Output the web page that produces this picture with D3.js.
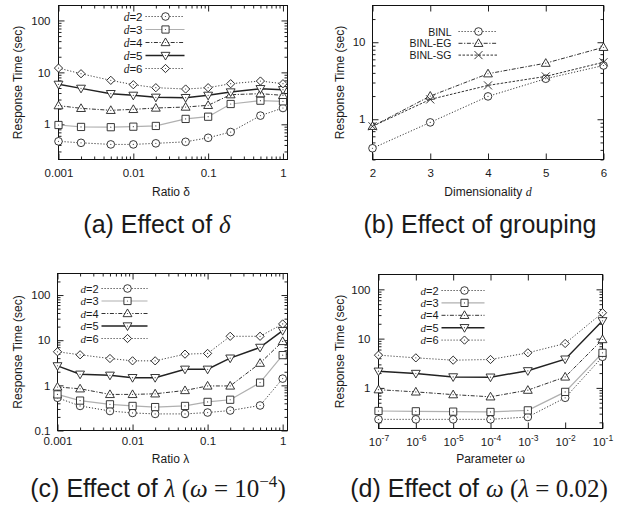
<!DOCTYPE html>
<html><head><meta charset="utf-8">
<script src="https://cdn.jsdelivr.net/npm/d3@7"></script>
<style>body{margin:0;background:#fff}svg{display:block}</style>
</head><body>
<svg id="chart" width="632" height="511"></svg>
<script>
// ---------- data ----------
const aX = [0.001,0.002,0.005,0.01,0.02,0.05,0.1,0.2,0.5,1];
const aD2 = [0.47,0.44,0.41,0.41,0.43,0.46,0.55,0.71,1.47,2.06];
const aD3 = [0.97,0.89,0.88,0.90,0.93,1.27,1.40,2.46,2.85,2.77];
const aD4 = [2.29,2.03,1.86,1.94,2.06,2.15,2.32,3.72,3.89,3.61];
const aD5 = [5.88,4.92,3.89,3.61,3.31,3.26,3.61,4.19,4.85,4.64];
const aD6 = [12.1,9.42,7.02,5.79,5.07,4.78,5.07,6.05,6.81,6.05];

const bX = [2,3,4,5,6];
const bBINL = [0.42,0.91,1.98,3.36,4.99];
const bEG = [0.81,2.0,3.9,5.35,8.6];
const bSG = [0.81,1.81,2.75,3.6,5.5];

const cX = [0.001,0.002,0.005,0.01,0.02,0.05,0.1,0.2,0.5,1];
const cD2 = [0.53,0.35,0.27,0.245,0.233,0.233,0.25,0.277,0.358,1.41];
const cD3 = [0.63,0.46,0.38,0.35,0.33,0.35,0.43,0.48,1.15,4.67];
const cD4 = [0.92,0.84,0.63,0.63,0.65,0.77,0.97,0.97,3.1,9.4];
const cD5 = [2.7,1.76,1.67,1.48,1.48,2.27,2.27,4.0,6.92,16.3];
const cD6 = [5.54,4.75,3.93,3.49,3.49,4.91,5.09,12.2,12.2,22.9];

const dX = [1e-7,1e-6,1e-5,1e-4,1e-3,1e-2,1e-1];
const dD2 = [0.23,0.23,0.23,0.23,0.257,0.63,4.27];
const dD3 = [0.34,0.335,0.33,0.325,0.35,0.83,5.15];
const dD4 = [0.92,0.83,0.73,0.66,0.90,1.67,9.6];
const dD5 = [2.18,1.96,1.67,1.65,2.22,3.83,23];
const dD6 = [4.62,4.07,3.65,3.77,5.15,7.97,33.5];

const dimNames = ["d=2","d=3","d=4","d=5","d=6"];
const grpNames = ["BINL","BINL-EG","BINL-SG"];

const logXTicks = [0.001,0.01,0.1,1];
const logXTickLabels = ["0.001","0.01","0.1","1"];
const bXTicks = [2,3,4,5,6];
const bXTickLabels = ["2","3","4","5","6"];
const dXTicks = [1e-7,1e-6,1e-5,1e-4,1e-3,1e-2,1e-1];
const dXTickExp = ["-7","-6","-5","-4","-3","-2","-1"];
const aYTicks = [1,10,100], aYTickLabels = ["1","10","100"];
const bYTicks = [1,10], bYTickLabels = ["1","10"];
const cYTicks = [0.1,1,10,100], cYTickLabels = ["0.1","1","10","100"];
const dYTicks = [1,10,100], dYTickLabels = ["1","10","100"];

// ---------- styles ----------
const SANS = "'Liberation Sans', Arial, Helvetica, sans-serif";
const SERIF = "'Liberation Serif', 'Times New Roman', serif";
const dimStyles = [
  {stroke:"#3a3a3a", width:1, dash:"1.2,1.8", marker:"circle"},
  {stroke:"#b0b0b0", width:1.2, dash:null, marker:"square"},
  {stroke:"#333", width:1, dash:"4,1.6,1.2,1.6", marker:"triUp"},
  {stroke:"#222", width:1.5, dash:null, marker:"triDown"},
  {stroke:"#444", width:1, dash:"1.2,1.8", marker:"diamond"}
];
const grpStyles = [
  {stroke:"#3a3a3a", width:1, dash:"1.2,1.8", marker:"circle"},
  {stroke:"#333", width:1, dash:"4,1.6,1.2,1.6", marker:"triUp"},
  {stroke:"#333", width:1, dash:"2.5,1.5", marker:"cross"}
];

const svg = d3.select("#chart");
const root = svg.append("g").attr("transform","translate(0.5,0.5)");

function drawMarker(g, type, cx, cy) {
  let p;
  if (type === "circle") p = d3.symbol(d3.symbolCircle, 46)();
  else if (type === "square") p = d3.symbol(d3.symbolSquare, 52)();
  else if (type === "triUp" || type === "triDown") p = d3.symbol(d3.symbolTriangle, 34)();
  else if (type === "diamond") p = d3.symbol(d3.symbolSquare, 34)();
  else p = d3.symbol(d3.symbolTimes, 44)();
  let rot = type === "triDown" ? 180 : (type === "diamond" ? 45 : 0);
  const dyAdj = type === "triUp" ? 0.6 : (type === "triDown" ? -0.6 : 0);
  g.append("path").attr("d", p)
    .attr("transform", `translate(${cx},${cy + dyAdj}) rotate(${rot})`)
    .attr("fill", type === "cross" ? "none" : "#fff")
    .attr("stroke", "#222").attr("stroke-width", 0.9);
  if (type !== "cross") g.append("circle").attr("cx", cx).attr("cy", cy).attr("r", 0.6).attr("fill", "#444");
}

function minorLog(domain) {
  const out = [];
  const lo = Math.floor(Math.log10(domain[0])), hi = Math.ceil(Math.log10(domain[1]));
  for (let e = lo; e <= hi; e++) for (let m = 2; m <= 9; m++) {
    const v = m * Math.pow(10, e);
    if (v > domain[0] && v < domain[1]) out.push(v);
  }
  return out;
}

function panel(cfg) {
  const g = root.append("g");
  const x = (cfg.xLog ? d3.scaleLog() : d3.scaleLinear()).domain(cfg.xDomain).range([cfg.L, cfg.R]);
  const y = d3.scaleLog().domain(cfg.yDomain).range([cfg.B, cfg.T]);

  const tickStyle = sel => { sel.select(".domain").remove(); sel.selectAll("line").attr("stroke","#222"); };

  // minor ticks (all four sides)
  const yMinor = minorLog(cfg.yDomain);
  g.append("g").attr("transform",`translate(${cfg.L},0)`).call(d3.axisLeft(y).tickValues(yMinor).tickSize(-3).tickFormat("")).call(tickStyle);
  g.append("g").attr("transform",`translate(${cfg.R},0)`).call(d3.axisRight(y).tickValues(yMinor).tickSize(-3).tickFormat("")).call(tickStyle);
  if (cfg.xMinor) {
    const xMinor = minorLog(cfg.xDomain);
    g.append("g").attr("transform",`translate(0,${cfg.B})`).call(d3.axisBottom(x).tickValues(xMinor).tickSize(-3).tickFormat("")).call(tickStyle);
    g.append("g").attr("transform",`translate(0,${cfg.T})`).call(d3.axisTop(x).tickValues(xMinor).tickSize(-3).tickFormat("")).call(tickStyle);
  }
  // major ticks
  const yAx = g.append("g").attr("transform",`translate(${cfg.L},0)`)
    .call(d3.axisLeft(y).tickValues(cfg.yTicks).tickSize(-6).tickPadding(cfg.yPad).tickFormat((d,i)=>cfg.yLabels[i]))
    .call(tickStyle);
  yAx.selectAll("text").attr("font-family", SANS).attr("font-size", 11.5).attr("fill", "#1a1a1a");
  g.append("g").attr("transform",`translate(${cfg.R},0)`).call(d3.axisRight(y).tickValues(cfg.yTicks).tickSize(-6).tickFormat("")).call(tickStyle);
  const xAx = g.append("g").attr("transform",`translate(0,${cfg.B})`)
    .call(d3.axisBottom(x).tickValues(cfg.xTicks).tickSize(-6).tickFormat((d,i)=>cfg.xLabels ? cfg.xLabels[i] : ""))
    .call(tickStyle);
  xAx.selectAll("text").attr("font-family", SANS).attr("font-size", 11.5).attr("fill", "#1a1a1a")
    .attr("y", cfg.xTickBase - cfg.B).attr("dy", 0);
  if (cfg.xExp) {
    xAx.selectAll(".tick text").each(function(d,i){
      const t = d3.select(this);
      t.text(null);
      t.append("tspan").text("10");
      t.append("tspan").attr("dy", -5).attr("font-size", 8.5).text(cfg.xExp[i]);
    });
  }
  g.append("g").attr("transform",`translate(0,${cfg.T})`).call(d3.axisTop(x).tickValues(cfg.xTicks).tickSize(-6).tickFormat("")).call(tickStyle);

  // frame
  g.append("rect").attr("x", cfg.L).attr("y", cfg.T).attr("width", cfg.R - cfg.L).attr("height", cfg.B - cfg.T)
    .attr("fill","none").attr("stroke","#111").attr("stroke-width",1);

  // series
  const line = d3.line().x(d => x(d[0])).y(d => y(d[1]));
  cfg.series.forEach((s, si) => {
    const st = cfg.styles[si];
    const pts = cfg.xs.map((xv, i) => [xv, s[i]]);
    g.append("path").attr("d", line(pts)).attr("fill","none").attr("stroke", st.stroke)
      .attr("stroke-width", st.width).attr("stroke-dasharray", st.dash);
  });
  cfg.series.forEach((s, si) => {
    const st = cfg.styles[si];
    cfg.xs.forEach((xv, i) => drawMarker(g, st.marker, x(xv), y(s[i])));
  });

  // legend
  const lg = cfg.legend;
  cfg.names.forEach((nm, i) => {
    const yy = lg.y0 + i * lg.dy;
    const st = cfg.styles[i];
    const t = g.append("text").attr("x", lg.textEnd).attr("y", yy + 4).attr("text-anchor","end")
      .attr("font-family", SANS).attr("font-size", lg.fs).attr("fill","#1a1a1a");
    if (cfg.italicPrefix) {
      const parts = nm.split("=");
      t.append("tspan").attr("font-family", SERIF).attr("font-style","italic").text(parts[0]);
      t.append("tspan").text("=" + parts[1]);
    } else t.text(nm);
    g.append("line").attr("x1", lg.x0).attr("x2", lg.x1).attr("y1", yy).attr("y2", yy)
      .attr("stroke", st.stroke).attr("stroke-width", st.width).attr("stroke-dasharray", st.dash);
    drawMarker(g, st.marker, lg.mx, yy);
  });

  // axis titles
  g.append("text").attr("transform", `translate(${cfg.yTitleX},${(cfg.T + cfg.B) / 2}) rotate(-90)`)
    .attr("text-anchor","middle").attr("font-family", SANS).attr("font-size", 12).attr("fill","#1a1a1a")
    .text("Response Time (sec)");
  const xt = g.append("text").attr("x", (cfg.L + cfg.R) / 2 + (cfg.xTitleShift || 0)).attr("y", cfg.xTitleBase)
    .attr("text-anchor","middle").attr("font-family", SANS).attr("font-size", 12).attr("fill","#1a1a1a");
  xt.append("tspan").text(cfg.xTitle[0]);
  xt.append("tspan").attr("font-family", cfg.xTitle[2] ? SERIF : SANS).attr("font-style", cfg.xTitle[2] ? "italic" : "normal").text(cfg.xTitle[1]);
}

panel({L:58, R:287, T:5, B:159, xLog:true, xMinor:true, xDomain:[0.001,1.15], yDomain:[0.21,194],
  xTicks:logXTicks, xLabels:logXTickLabels, yTicks:aYTicks, yLabels:aYTickLabels, yPad:8, xTickBase:176,
  xs:aX, series:[aD2,aD3,aD4,aD5,aD6], styles:dimStyles, names:dimNames, italicPrefix:true,
  legend:{textEnd:142, x0:145, x1:184, mx:165, y0:16, dy:13, fs:11.5},
  yTitleX:21, xTitle:["Ratio ","δ",false], xTitleBase:195, xTitleShift:-2});

panel({L:372, R:603, T:5, B:159, xLog:false, xMinor:false, xDomain:[2,6], yDomain:[0.3,30],
  xTicks:bXTicks, xLabels:bXTickLabels, yTicks:bYTicks, yLabels:bYTickLabels, yPad:7, xTickBase:176,
  xs:bX, series:[bBINL,bEG,bSG], styles:grpStyles, names:grpNames, italicPrefix:false,
  legend:{textEnd:451, x0:458, x1:497, mx:478, y0:31, dy:11.8, fs:10.5},
  yTitleX:343, xTitle:["Dimensionality ","d",true], xTitleBase:195});

panel({L:57, R:287, T:273, B:430, xLog:true, xMinor:true, xDomain:[0.001,1.16], yDomain:[0.1,300],
  xTicks:logXTicks, xLabels:logXTickLabels, yTicks:cYTicks, yLabels:cYTickLabels, yPad:7, xTickBase:444,
  xs:cX, series:[cD2,cD3,cD4,cD5,cD6], styles:dimStyles, names:dimNames, italicPrefix:true,
  legend:{textEnd:98, x0:101, x1:147, mx:127, y0:288, dy:12.5, fs:11},
  yTitleX:21, xTitle:["Ratio ","λ",false], xTitleBase:462, xTitleShift:-2});

panel({L:378, R:602, T:274, B:428, xLog:true, xMinor:false, xDomain:[1e-7,1e-1], yDomain:[0.15,200],
  xTicks:dXTicks, xLabels:null, xExp:dXTickExp, yTicks:dYTicks, yLabels:dYTickLabels, yPad:8, xTickBase:445,
  xs:dX, series:[dD2,dD3,dD4,dD5,dD6], styles:dimStyles, names:dimNames, italicPrefix:true,
  legend:{textEnd:438, x0:441, x1:484, mx:464, y0:290, dy:12.4, fs:11},
  yTitleX:343, xTitle:["Parameter ","ω",false], xTitleBase:462});

// ---------- captions ----------
function caption(cx, base, parts) {
  const t = svg.append("text").attr("x", cx).attr("y", base).attr("text-anchor","middle")
    .attr("font-size", 25).attr("fill","#1a1a1a").attr("font-family", SANS);
  parts.forEach(p => {
    const s = t.append("tspan").text(p.t);
    if (p.serif) s.attr("font-family", SERIF);
    if (p.it) s.attr("font-style","italic");
    if (p.dy) s.attr("dy", p.dy);
    if (p.fs) s.attr("font-size", p.fs);
  });
}
caption(157, 233, [{t:"(a) Effect of "},{t:"δ", serif:true, it:true}]);
caption(480, 233, [{t:"(b) Effect of grouping"}]);
caption(158, 497, [{t:"(c) Effect of "},{t:"λ", serif:true, it:true},{t:" (", serif:true},{t:"ω", serif:true, it:true},
  {t:" = 10", serif:true},{t:"−4", serif:true, dy:-10, fs:17},{t:")", serif:true, dy:10}]);
caption(479, 497, [{t:"(d) Effect of "},{t:"ω", serif:true, it:true},{t:" (", serif:true},{t:"λ", serif:true, it:true},
  {t:" = 0.02)", serif:true}]);
</script>
</body></html>
